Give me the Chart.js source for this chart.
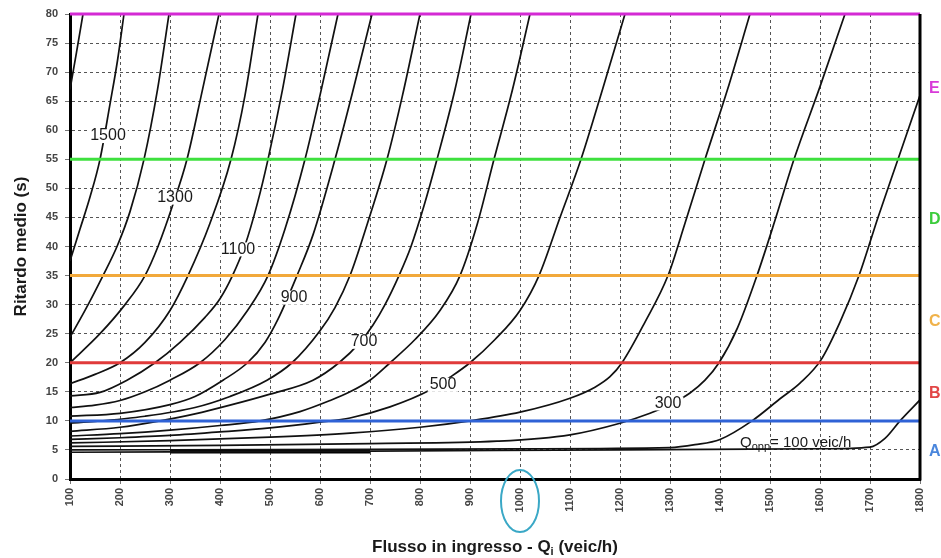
<!DOCTYPE html>
<html>
<head>
<meta charset="utf-8">
<script src="https://cdn.jsdelivr.net/npm/chart.js@4"></script>
<style>
  html, body { margin: 0; padding: 0; background: #fff; }
  canvas { display: block; }
</style>
</head>
<body>
<canvas id="myChart" width="941" height="558"></canvas>
<script>
// delay curves: [Qi (veic/h), ritardo (s)] for each opposing flow Qopp
const c1600 = [[100, 67], [113, 73.4], [126, 80]]
const c1500 = [[100, 37.5], [120, 43], [140, 48.5], [160, 55], [180, 64.5], [195, 72], [208, 80]]
const c1400 = [[100, 24.4], [130, 29], [166, 35], [194, 40], [220, 46], [248, 55], [275, 67], [298, 80]]
const c1300 = [[100, 20], [160, 25], [210, 30], [250, 35], [276, 40], [305, 47], [334, 55], [365, 67], [398, 80]]
const c1200 = [[100, 16.4], [150, 18], [200, 20], [250, 23.5], [300, 29], [336, 35], [380, 44], [422, 55], [450, 66], [476, 80]]
const c1100 = [[100, 14.3], [160, 14.9], [214, 17], [270, 20], [320, 23.5], [370, 27.8], [400, 31], [424, 34.8], [450, 40.2], [475, 47.5], [496, 55], [525, 67], [552, 80]]
const c1000 = [[100, 12.3], [150, 12.7], [200, 13.5], [250, 15], [300, 17], [360, 20], [410, 24], [455, 29], [496, 35], [530, 43], [570, 55], [600, 66], [636, 80]]
const c900 = [[100, 10.8], [200, 11.3], [300, 12.8], [350, 14.2], [406, 17], [455, 20], [490, 23.5], [516, 27.5], [554, 35], [586, 42], [630, 55], [665, 66.5], [704, 80]]
const c800 = [[100, 9.6], [150, 9.9], [250, 10.8], [350, 12.3], [420, 14.2], [494, 17], [544, 20], [600, 25.5], [630, 29.5], [660, 35], [695, 44], [734, 55], [765, 66], [800, 80]]
const c700 = [[100, 8.2], [200, 8.9], [280, 10], [350, 11.2], [420, 12.7], [500, 14.6], [586, 17], [638, 20], [680, 23.5], [706, 26.5], [730, 30], [758, 35], [782, 40], [808, 47], [834, 55], [870, 67], [902, 80]]
const c600 = [[100, 7.4], [200, 7.8], [300, 8.4], [400, 9.2], [480, 10], [560, 11.6], [620, 13.5], [660, 15], [700, 17], [740, 20], [790, 24], [840, 29], [880, 35], [915, 44], [948, 55], [985, 67], [1020, 80]]
const c500 = [[100, 6.8], [200, 7.1], [300, 7.5], [400, 8.1], [500, 8.8], [600, 9.8], [660, 10.5], [740, 12.4], [820, 15.3], [860, 17.5], [900, 20], [950, 24], [1000, 29], [1038, 35], [1080, 45], [1122, 55], [1165, 67], [1210, 80]]
const c400 = [[100, 6.2], [300, 6.6], [500, 7.2], [660, 7.9], [800, 8.9], [900, 10], [1000, 11.5], [1100, 13.9], [1150, 15.8], [1180, 17.6], [1204, 20], [1250, 27], [1296, 35], [1330, 44], [1370, 55], [1415, 67], [1460, 80]]
const c300 = [[100, 5.6], [400, 5.8], [700, 6.1], [954, 6.5], [1100, 7.6], [1200, 9.6], [1260, 11.3], [1300, 12.8], [1340, 14.8], [1370, 17], [1398, 20], [1435, 26], [1474, 35], [1510, 44.5], [1548, 55], [1600, 67.5], [1650, 80]]
const c200 = [[100, 5], [700, 5.1], [1000, 5.2], [1300, 5.4], [1350, 5.9], [1400, 6.8], [1464, 10], [1520, 13.8], [1560, 16.5], [1602, 20.5], [1640, 27], [1678, 35], [1716, 45], [1756, 55], [1800, 66]]
const c100 = [[100, 4.6], [700, 4.8], [1200, 5], [1600, 5.2], [1700, 5.5], [1730, 7], [1760, 10], [1800, 13.6]]
const thickSeg = [[300, 4.7], [700, 4.7]]

const curves = [c1600, c1500, c1400, c1300, c1200, c1100, c1000, c900, c800, c700, c600, c500, c400, c300, c200, c100]

// livelli di servizio
const losLimits = [10, 20, 35, 55, 80]
const losLetters = ['A', 'B', 'C', 'D', 'E']
const losColors = ['#2f62d6', '#e03a3a', '#f2a93b', '#3ee03e', '#d42ad4']
const losTextColors = ['#4a86dc', '#e24646', '#f0b24a', '#3ccc3c', '#d83ad8']

// etichette sulle curve
const curveLabels = ['1500', '1300', '1100', '900', '700', '500', '300']
const curveLabelX = [176, 310, 436, 548, 688, 846, 1296]
const curveLabelY = [59, 48.4, 39.5, 31.2, 23.6, 16.2, 13]

Chart.defaults.font.family = '"Liberation Sans", Arial, sans-serif'

const datasets = []
losLimits.forEach((v, i) => {
    datasets.push({
        data: [{ x: 100, y: v }, { x: 1800, y: v }],
        borderColor: losColors[i],
        borderWidth: 3,
        clip: 5,
    })
})
curves.forEach((c) => {
    datasets.push({
        data: c.map((p) => ({ x: p[0], y: p[1] })),
        borderColor: '#111',
        borderWidth: 1.7,
        cubicInterpolationMode: 'monotone',
    })
})
datasets.push({
    data: thickSeg.map((p) => ({ x: p[0], y: p[1] })),
    borderColor: '#000',
    borderWidth: 3.5,
})

const overlay = {
    id: 'overlay',
    afterDatasetsDraw(chart) {
        const { ctx, chartArea: a } = chart
        const x = chart.scales.x
        const y = chart.scales.y
        ctx.save()
        ctx.font = '16px "Liberation Sans", Arial, sans-serif'
        ctx.textAlign = 'center'
        ctx.textBaseline = 'middle'
        curveLabels.forEach((t, i) => {
            const px = x.getPixelForValue(curveLabelX[i])
            const py = y.getPixelForValue(curveLabelY[i])
            const w = ctx.measureText(t).width
            ctx.fillStyle = '#fff'
            ctx.fillRect(px - w / 2 - 2, py - 7, w + 4, 14)
            ctx.fillStyle = '#1a1a1a'
            ctx.fillText(t, px, py)
        })

        // Qopp = 100 veic/h
        let qx = x.getPixelForValue(1440)
        const qy = y.getPixelForValue(6.3)
        ctx.textAlign = 'left'
        ctx.fillStyle = '#1a1a1a'
        ctx.font = '15px "Liberation Sans", Arial, sans-serif'
        ctx.fillText('Q', qx, qy)
        qx += ctx.measureText('Q').width
        ctx.font = '11px "Liberation Sans", Arial, sans-serif'
        ctx.fillText('opp', qx, qy + 5)
        qx += ctx.measureText('opp').width
        ctx.font = '15px "Liberation Sans", Arial, sans-serif'
        ctx.fillText('= 100 veic/h', qx, qy)

        // right frame
        ctx.strokeStyle = '#000'
        ctx.lineWidth = 3
        ctx.beginPath()
        ctx.moveTo(a.right, a.top)
        ctx.lineTo(a.right, a.bottom + 1.5)
        ctx.stroke()

        // LOS letters
        ctx.font = 'bold 16px "Liberation Sans", Arial, sans-serif'
        losLetters.forEach((l, i) => {
            const lo = i ? losLimits[i - 1] : 0
            ctx.fillStyle = losTextColors[i]
            ctx.fillText(l, a.right + 9, y.getPixelForValue((lo + losLimits[i]) / 2) + 2)
        })

        // x title with subscript
        const f1 = 'bold 17px "Liberation Sans", Arial, sans-serif'
        const f2 = 'bold 11px "Liberation Sans", Arial, sans-serif'
        const t1 = 'Flusso in ingresso - Q'
        const t2 = 'i'
        const t3 = ' (veic/h)'
        ctx.font = f1
        const w1 = ctx.measureText(t1).width
        const w3 = ctx.measureText(t3).width
        ctx.font = f2
        const w2 = ctx.measureText(t2).width
        let tx = (a.left + a.right) / 2 - (w1 + w2 + w3) / 2
        const ty = 546
        ctx.fillStyle = '#1a1a1a'
        ctx.textBaseline = 'alphabetic'
        ctx.font = f1
        ctx.fillText(t1, tx, ty + 6)
        tx += w1
        ctx.font = f2
        ctx.fillText(t2, tx, ty + 9)
        tx += w2
        ctx.font = f1
        ctx.fillText(t3, tx, ty + 6)

        // ellipse round 1000
        ctx.strokeStyle = '#3aa8c6'
        ctx.lineWidth = 2
        ctx.beginPath()
        ctx.ellipse(x.getPixelForValue(1000), 501, 19, 31, 0, 0, Math.PI * 2)
        ctx.stroke()
        ctx.restore()
    },
}

new Chart(document.getElementById('myChart'), {
    type: 'line',
    data: { datasets },
    options: {
        responsive: false,
        animation: false,
        layout: { padding: { top: 14, right: 21, left: 0, bottom: 0 } },
        elements: { point: { radius: 0 } },
        plugins: { legend: { display: false }, tooltip: { enabled: false } },
        scales: {
            x: {
                type: 'linear',
                min: 100,
                max: 1800,
                ticks: {
                    stepSize: 100,
                    minRotation: 90,
                    maxRotation: 90,
                    padding: 4,
                    color: '#444',
                    font: { size: 11, weight: 'bold' },
                    callback: (v) => String(v),
                },
                grid: { color: '#555', lineWidth: 1, tickLength: 5, tickColor: '#777', tickBorderDash: [] },
                border: { color: '#000', width: 3, dash: [3, 3] },
                afterFit(s) { s.height = 79 },
            },
            y: {
                min: 0,
                max: 80,
                ticks: {
                    stepSize: 5,
                    padding: 7,
                    color: '#444',
                    font: { size: 11, weight: 'bold' },
                    callback: (v) => String(v),
                },
                title: {
                    display: true,
                    text: 'Ritardo medio (s)',
                    color: '#1a1a1a',
                    font: { size: 17, weight: 'bold' },
                    padding: { top: 11, bottom: 0 },
                },
                grid: { color: '#555', lineWidth: 1, tickLength: 5, tickColor: '#777', tickBorderDash: [] },
                border: { color: '#000', width: 3, dash: [3, 3] },
                afterFit(s) { s.width = 70 },
            },
        },
    },
    plugins: [overlay],
})
</script>
</body>
</html>
